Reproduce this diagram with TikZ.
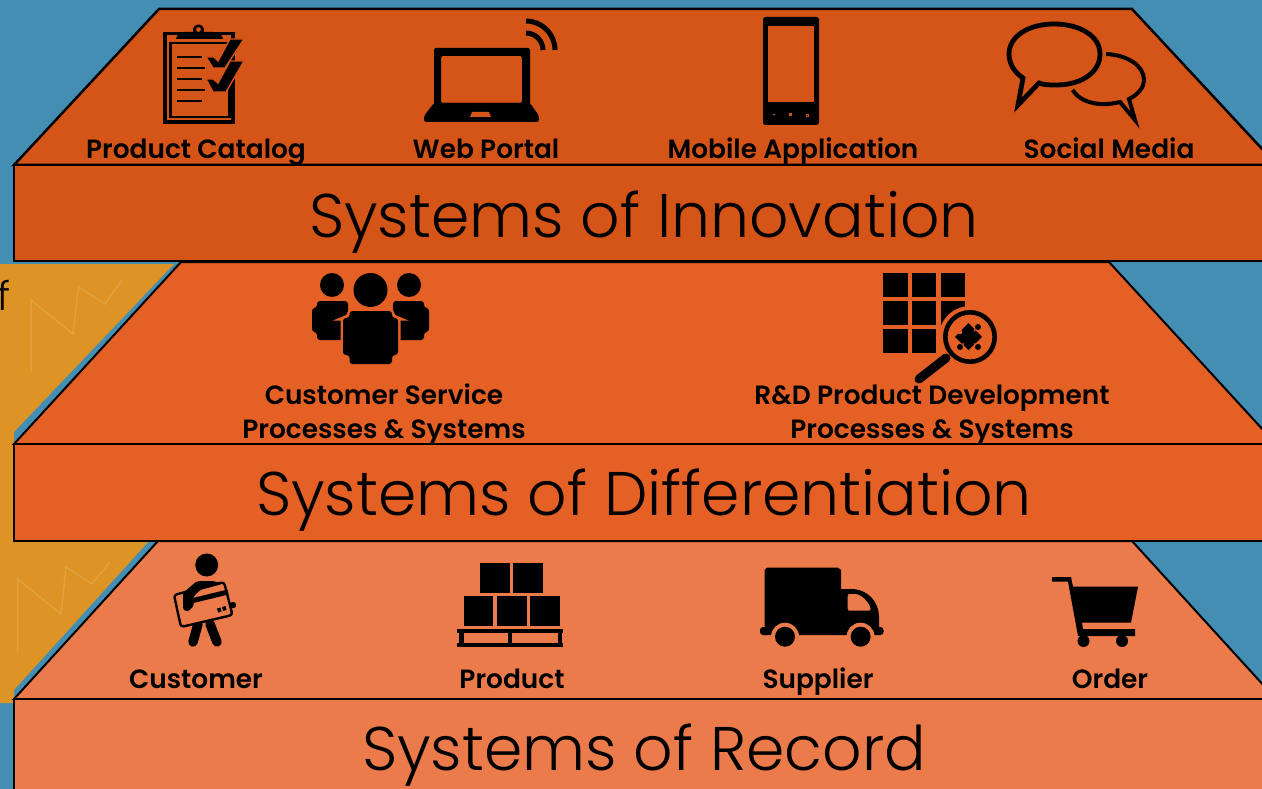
\documentclass[tikz,border=0pt]{standalone}
\usepackage{fontspec}
\setmainfont{Poppins}
\newfontfamily\titlefont{Poppins Light}
\newfontfamily\labelfont{Poppins SemiBold}
\definecolor{bg}{HTML}{458EB3}
\definecolor{gold}{HTML}{DD9425}
\definecolor{zig}{HTML}{E3A23F}
\definecolor{topc}{HTML}{D55418}
\definecolor{midc}{HTML}{E56025}
\definecolor{lowc}{HTML}{EC7B4C}
\tikzset{
  layer/.style={draw=black,line width=2pt,line join=miter},
  zigline/.style={draw=zig,line width=1.5pt},
  tlabel/.style={anchor=base,font=\labelfont\fontsize{26.4}{26.4}\selectfont,text=black,inner sep=0pt},
  ttitle/.style={anchor=base,font=\titlefont\fontsize{61.6}{61.6}\selectfont,text=black,inner sep=0pt},
  ink/.style={fill=black,draw=none},
}
\begin{document}
\begin{tikzpicture}[x=1pt,y=-1pt]
\useasboundingbox (0,0) rectangle (1262,789);
\clip (0,0) rectangle (1262,789);
\fill[bg] (0,0) rectangle (1262,789);
% gold panel
\fill[gold] (0,264) -- (174,264) -- (14,432) -- (14,541) -- (149,541) -- (14,690) -- (14,703) -- (0,703) -- cycle;
\draw[zigline] (31,372) -- (31,300) -- (73,334) -- (78.5,287) -- (105,304) -- (122,280);
\draw[zigline] (17.6,652) -- (17.6,579) -- (61,614) -- (66,567) -- (92,584) -- (110,562);
\node[anchor=base,inner sep=0pt,font=\titlefont\fontsize{40}{40}\selectfont] (frag) at (4,310) {f};
% lowest layer
\draw[layer,fill=lowc] (14,699) -- (158,541) -- (1132,541) -- (1276,699) -- cycle;
\draw[layer,fill=lowc] (14,699) rectangle (1280,800);
% middle layer
\draw[layer,fill=midc] (14,444) -- (181,262) -- (1109,262) -- (1276,444) -- cycle;
\draw[layer,fill=midc] (14,444) rectangle (1280,541);
% top layer
\draw[layer,line width=2.5pt,fill=topc] (14,165) -- (159,9) -- (1132,9) -- (1277,165) -- cycle;
\draw[layer,line width=2.5pt,fill=topc] (14,165) rectangle (1280,261);

% ---- clipboard
\fill[black] (163,32) rectangle (235,124);
\fill[topc] (167,35) rectangle (231,120);
\draw[line width=2.2pt] (170.5,43) rectangle (229.5,117);
\fill[black] (176,39) .. controls (177,34) and (181,32) .. (185,32) -- (193,32) .. controls (192,22) and (205,22) .. (204,32) -- (214,32) .. controls (218,32) and (222,34) .. (223,39) -- cycle;
\fill[topc] (198.5,29.5) circle (2.4);
\foreach \yy/\xe in {57/202,68/205,79/202,90/205,101/202}
  \draw[line width=2.8pt] (177,\yy) -- (\xe,\yy);
\draw[topc,line width=1.4pt,fill=black] (206,57) -- (214,57) -- (218,61) -- (230,39) -- (244,39) -- (225,68) -- (213,68) -- cycle;
\draw[topc,line width=1.4pt,fill=black] (206,79) -- (213,79) -- (218,83) -- (230,61) -- (244,61) -- (226,92) -- (213,92) -- cycle;

% ---- laptop
\draw[ink,even odd rule,rounded corners=2pt] (434,48) rectangle (530,110) (441,56) rectangle (522,103);
\fill[black,rounded corners=2.5pt] (434,103) -- (424,116) -- (424,122) -- (539,122) -- (539,116) -- (530,103) -- cycle;
\fill[topc] (472,112) -- (489,112) -- (491,117) -- (470,117) -- cycle;
\draw[line width=5pt] (526,21) .. controls (542,21) and (555,34) .. (555,50);
\draw[line width=5pt] (526,33) .. controls (535.4,33) and (543,40.6) .. (543,50);

% ---- phone
\fill[black,rounded corners=2.5pt] (763,17) rectangle (819,125);
\fill[topc] (768,26) rectangle (814,102);
\fill[topc] (773,114.5) rectangle (775,115.5);
\fill[topc] (788.5,113.5) rectangle (791.5,116.5);
\draw[topc,line width=.5pt] (806,114) rectangle (808,116);

% ---- speech bubbles
\draw[line width=4.8pt,line join=miter,miter limit=10] (1023,78) -- (1018,105) -- (1039,83)
  .. controls (1044,85) and (1050,85) .. (1056,85)
  .. controls (1082,85) and (1100,72) .. (1100,54)
  .. controls (1100,36) and (1080,24) .. (1054,24)
  .. controls (1029,24) and (1009,36) .. (1009,54)
  .. controls (1009,64) and (1015,73) .. (1023,78) -- cycle;
\draw[line width=4pt,line join=miter,miter limit=10] (1106,54)
  .. controls (1128,55) and (1144,66) .. (1144,80)
  .. controls (1144,87) and (1139,94) .. (1129,99)
  -- (1135,120) -- (1120,102)
  .. controls (1100,107) and (1081,103) .. (1072.5,90);

% ---- people
\fill[black] (332,285) circle (12);
\fill[black] (409,285) circle (12);
\fill[black] (370.5,290) circle (17);
\fill[black,rounded corners=3pt] (317,301) -- (348,301) -- (348,309) -- (350,340) -- (317,340) -- (317,332) -- (312,332) -- (312,308) -- (317,308) -- cycle;
\fill[black,rounded corners=3pt] (424,301) -- (393,301) -- (393,309) -- (391,340) -- (424,340) -- (424,332) -- (429,332) -- (429,308) -- (424,308) -- cycle;
\draw[midc,line width=5pt,fill=black,rounded corners=4pt] (349.5,311) -- (392,311) -- (392,318) -- (398,318) -- (398,355) -- (392,355) -- (392,364) -- (349.5,364) -- (349.5,355) -- (343,355) -- (343,318) -- (349.5,318) -- cycle;
\fill[black,rounded corners=3pt] (349.5,311) -- (392,311) -- (392,318) -- (398,318) -- (398,355) -- (392,355) -- (392,364) -- (349.5,364) -- (349.5,355) -- (343,355) -- (343,318) -- (349.5,318) -- cycle;

% ---- R&D grid and lens
\foreach \xx in {883.4,912,941}
  \foreach \yy in {273,301,329}
    \fill[black] (\xx,\yy) rectangle +(24.2,24.2);
\fill[midc] (941,329) rectangle (966,354);
\fill[midc] (970,337) circle (31);
\draw[line width=4.6pt] (970,337) circle (24.7);
\draw[line width=9pt,line cap=round] (919,379) -- (946,358);
\fill[black] (968.5,323) -- (982,337) -- (968.5,350) -- (955,337) -- cycle;
\fill[black] (978,327) circle (3);
\fill[black] (978,347) circle (3);
\fill[black] (960,347) circle (3);
\fill[midc] (960,332) circle (2.2);
\fill[midc] (974.5,330.5) circle (1);
\fill[midc] (974.5,344) circle (1);
\fill[midc] (963,344) circle (1);

% ---- customer figure
\fill[black] (206.7,565) circle (11.5);
\draw[line width=9.5pt,line cap=round] (198,624) -- (193,642);
\draw[line width=9.5pt,line cap=round] (210,624) -- (217,642);
\fill[black] (233,605) circle (3.2);
\draw[line width=2.4pt,fill=lowc,rounded corners=3pt] (174,595) -- (224,582) -- (232.5,615) -- (181,627) -- cycle;
\fill[black,rounded corners=2pt] (183,593) -- (197,581) -- (214,581) -- (222,584) -- (200,590) -- (193,597) -- (194,606) -- (188,611) -- (183,607) -- cycle;
\draw[line width=5pt] (191,601) -- (228,592);
\fill[black] (187,607) circle (4.2);
\fill[black] (217,608.5) -- (220.5,607.5) -- (221.5,611.5) -- (218,612.5) -- cycle;
\fill[black] (222,607) -- (225.5,606) -- (226.5,610) -- (223,611) -- cycle;

% ---- product pallet
\foreach \xx in {480,513} \fill[black] (\xx,563) rectangle +(30,30);
\foreach \xx in {463.5,497,530} \fill[black] (\xx,596) rectangle +(29.7,30);
\fill[black] (456.6,628.7) rectangle (563.3,633.3);
\fill[black] (456.6,642.7) rectangle (563.3,646.7);
\fill[black] (459,633) rectangle (463.5,643);
\fill[black] (508,633) rectangle (512,643);
\fill[black] (558,633) rectangle (562,643);

% ---- truck
\fill[black] (764.5,635) -- (764.5,570) -- (767,567.7) -- (838,567.7) -- (841,570) -- (841,589) -- (851,589) .. controls (868,589) and (879,602) .. (879,617) -- (879,635) -- cycle;
\fill[black,rounded corners=3pt] (760,627) rectangle (770,635);
\fill[black,rounded corners=3pt] (875,627) rectangle (883.5,635);
\fill[lowc,rounded corners=2pt] (847.7,594) -- (853,594) .. controls (861,594) and (869,602) .. (871,610.7) -- (847.7,610.7) -- cycle;
\fill[lowc] (785,636.7) circle (14);
\fill[lowc] (860.6,636.7) circle (14);
\fill[lowc] (760,636) rectangle (885,650);
\fill[black] (785,636.7) circle (10);
\fill[black] (860.6,636.7) circle (10);

% ---- cart
\fill[black] (1052,577) -- (1071,577) -- (1073,586.7) -- (1138,586.7) -- (1131,622.7) -- (1082,622.7) -- (1083,629) -- (1135,629) -- (1135,636) -- (1078,636) -- (1068,581.6) -- (1052,581.6) -- cycle;
\fill[black] (1083.5,641) circle (6);
\fill[black] (1122,641) circle (6);

% ---- labels
\node[tlabel] (catalog) at (196,159) {Product Catalog};
\node[tlabel] (portal) at (486,159) {Web Portal};
\node[tlabel] (mobile) at (793,159) {Mobile Application};
\node[tlabel] (social) at (1109,159) {Social Media};
\node[tlabel] (cust1) at (384,404.5) {Customer Service};
\node[tlabel] (cust2) at (384,438.5) {Processes \& Systems};
\node[tlabel] (rd1) at (932,404.5) {R\&D Product Development};
\node[tlabel] (rd2) at (932,438.5) {Processes \& Systems};
\node[tlabel] (customer) at (196,688.5) {Customer};
\node[tlabel] (product) at (512,688.5) {Product};
\node[tlabel] (supplier) at (818,688.5) {Supplier};
\node[tlabel] (order) at (1110,688.5) {Order};
\node[ttitle] (inno) at (644,237) {Systems of Innovation};
\node[ttitle] (diff) at (644,515) {Systems of Differentiation};
\node[ttitle] (rec) at (644,770) {Systems of Record};
\end{tikzpicture}
\end{document}
